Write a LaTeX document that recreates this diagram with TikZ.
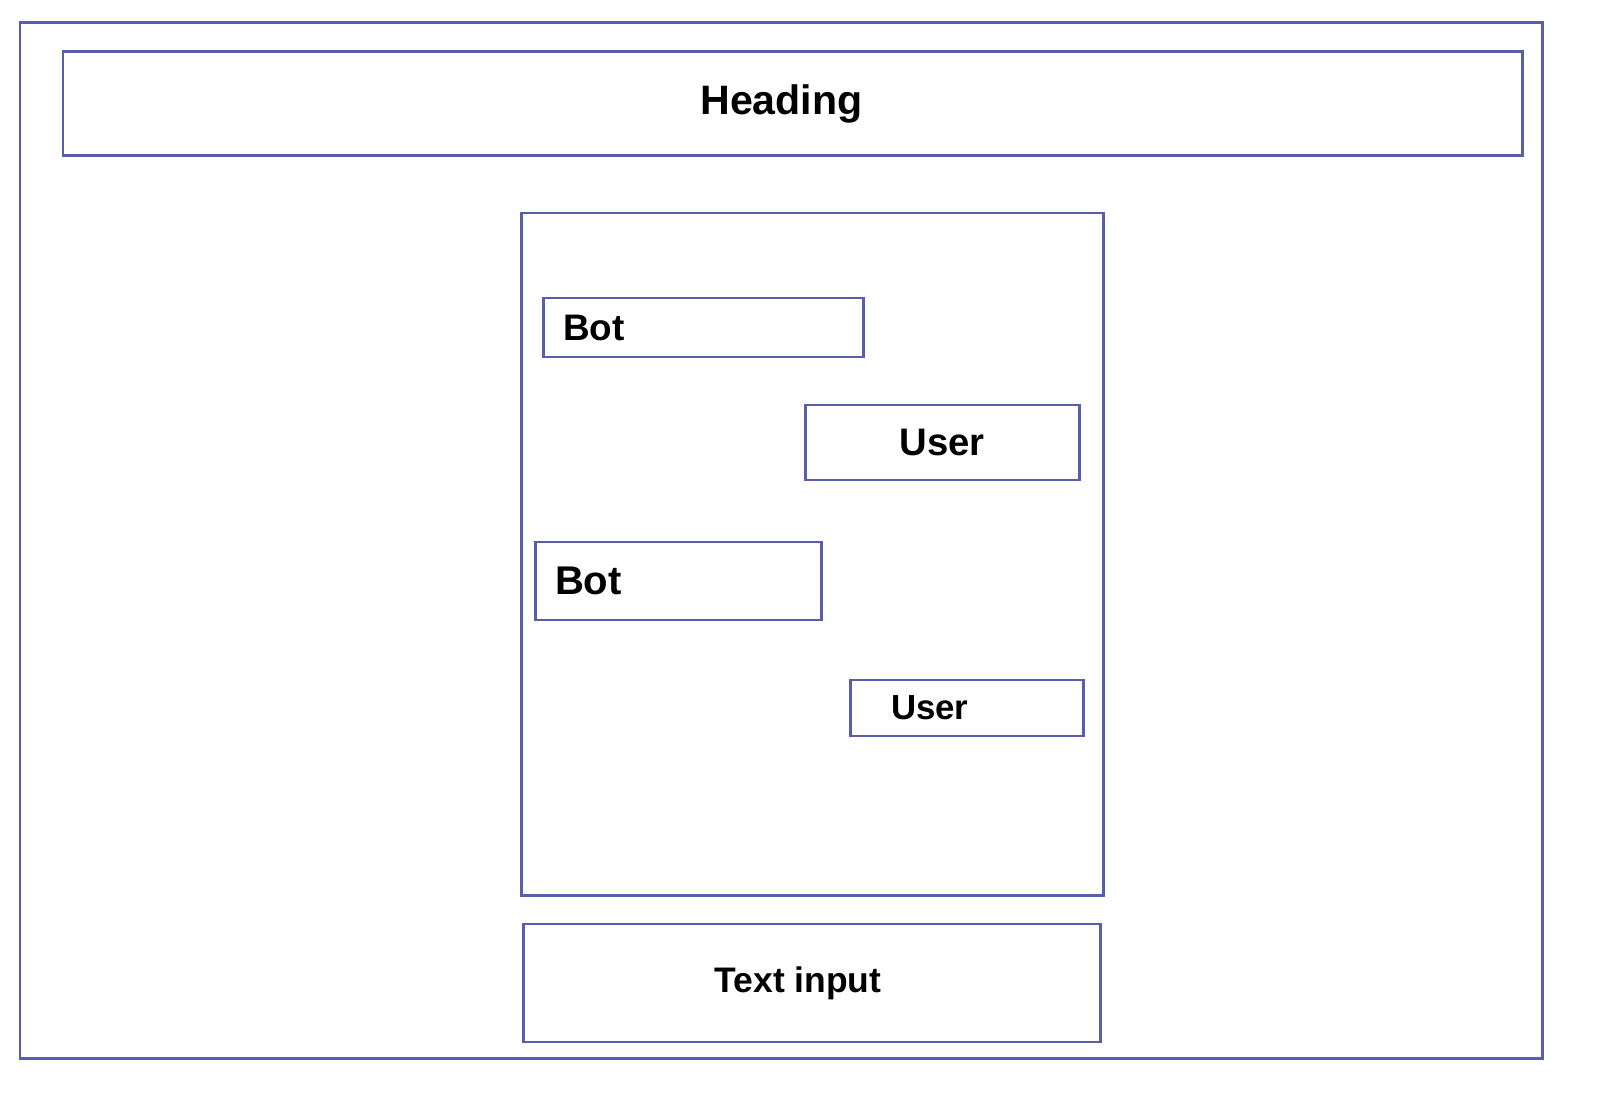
\documentclass[tikz,border=0pt]{standalone}
\usepackage{fontspec}
\setmainfont{Liberation Sans}
\usepackage{xcolor}
\usepackage{tikz}
\usetikzlibrary{positioning}
\definecolor{wire}{RGB}{88,94,172}

\begin{document}
\begin{tikzpicture}[
        box/.style={rectangle, draw=wire, line width=0.85pt, inner sep=0pt, text centered, font=\bfseries},
        botmsg/.style={box, align=left, inner xsep=0.2cm},
        usermsg/.style={box}
    ]
        \useasboundingbox (0,0) rectangle (16,11.08);

        % ===== 外框与标题 =====
        \node (frame) [box, minimum width=15.22cm, minimum height=10.35cm] at (7.81,5.675) {};
        \node (heading) [box, minimum width=14.59cm, minimum height=1.04cm, below right=0.29cm and 0.43cm of frame.north west,
            font=\bfseries\fontsize{11.7}{14}\selectfont] {\hspace*{-0.22cm}Heading};

        % ===== 对话区 =====
        \node (chat) [box, minimum width=5.82cm, minimum height=6.82cm] at (8.12,5.54) {};
        \node (bot1) [botmsg, minimum width=3.2cm, minimum height=0.59cm, text width=2.8cm,
            below right=0.85cm and 0.22cm of chat.north west,
            font=\bfseries\fontsize{10.5}{12}\selectfont] {Bot};
        \node (user1) [usermsg, minimum width=2.74cm, minimum height=0.75cm,
            below left=1.92cm and 0.24cm of chat.north east,
            font=\bfseries\fontsize{10.9}{13}\selectfont] {User};
        \node (bot2) [botmsg, minimum width=2.86cm, minimum height=0.78cm, text width=2.46cm,
            below right=3.29cm and 0.14cm of chat.north west,
            font=\bfseries\fontsize{11.4}{13}\selectfont] {Bot};
        \node (user2) [botmsg, inner xsep=0.41cm, minimum width=2.33cm, minimum height=0.56cm, text width=1.51cm,
            below left=4.67cm and 0.20cm of chat.north east,
            font=\bfseries\fontsize{9.9}{12}\selectfont] {User};

        % ===== 输入框 =====
        \node (input) [box, minimum width=5.77cm, minimum height=1.18cm, below=0.26cm of chat.south,
            font=\bfseries\fontsize{10.1}{12}\selectfont] {\hspace*{-0.28cm}Text input};

    \end{tikzpicture}
\end{document}
